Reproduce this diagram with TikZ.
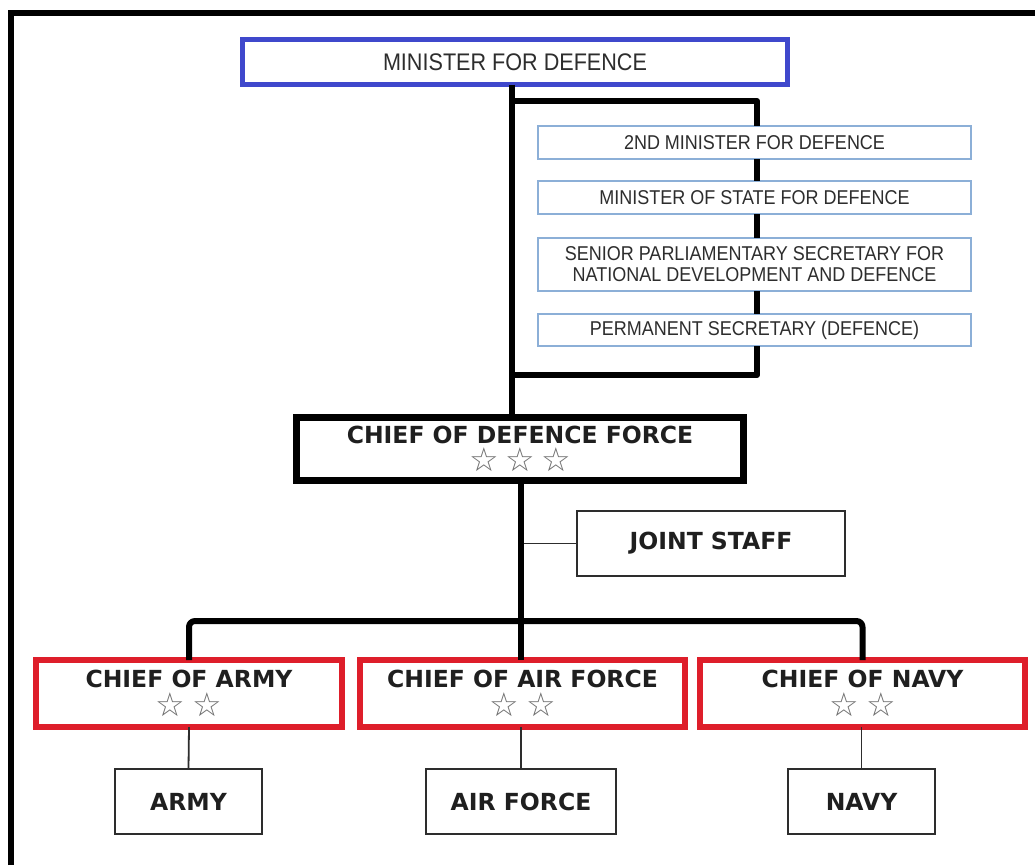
\documentclass[tikz,border=0pt]{standalone}
\usepackage{fontspec}
\setmainfont{Liberation Sans}
\newfontfamily\narrowf[FakeStretch=0.9]{Liberation Sans}
\newfontfamily\boldf{DejaVu Sans}
\newfontfamily\symf{DejaVu Sans}
\definecolor{mblue}{RGB}{63,72,204}
\definecolor{lblue}{RGB}{140,175,215}
\definecolor{cred}{RGB}{222,30,42}
\definecolor{txt}{RGB}{45,45,45}
\definecolor{stargray}{RGB}{110,110,110}
\newcommand{\threestars}{{\symf\color{stargray}\fontsize{33pt}{26pt}\selectfont ☆\hspace{6.5pt}☆\hspace{6.5pt}☆}}
\newcommand{\twostars}{{\symf\color{stargray}\fontsize{33pt}{26pt}\selectfont ☆\hspace{7.5pt}☆}}
\tikzset{
  every node/.style={inner sep=0pt, outer sep=0pt},
  minbox/.style={draw=mblue, line width=5pt, fill=white, text=txt,
    minimum width=545pt, minimum height=45pt,
    font=\narrowf\fontsize{24pt}{26pt}\selectfont},
  subbox/.style={draw=lblue, line width=1.8pt, fill=white, text=txt,
    minimum width=433pt, align=center,
    font=\narrowf\fontsize{20pt}{21pt}\selectfont},
  cdfbox/.style={draw=black, line width=7pt, fill=white, text=black!88,
    minimum width=447pt, minimum height=63pt, align=center,
    font=\boldf\bfseries\fontsize{23.5pt}{26pt}\selectfont},
  chiefbox/.style={draw=cred, line width=6pt, fill=white, text=black!88,
    minimum height=67pt, align=center,
    font=\boldf\bfseries\fontsize{23.5pt}{26pt}\selectfont},
  unitbox/.style={draw=txt, line width=1.8pt, fill=white, text=black!88,
    minimum height=65pt, align=center,
    font=\boldf\bfseries\fontsize{23.5pt}{26pt}\selectfont},
  thickline/.style={line width=6pt, draw=black, line join=round},
  thinline/.style={line width=1.8pt, draw=txt},
}
\begin{document}
\begin{tikzpicture}[x=1pt,y=-1pt]
\useasboundingbox[fill=white] (0,0) rectangle (1035,865);
% frame
\draw[line width=6pt, line join=miter] (11,865) -- (11,13) -- (1035,13);

% helper coordinates
\coordinate (spine) at (512,0);
\coordinate (spineb) at (521,0);
\coordinate (br) at (757,101);
\coordinate (bb) at (757,375);
\coordinate (bus) at (0,621);

% nodes
\node[minbox] (mfd) at (515,62) {MINISTER FOR DEFENCE};
\node[subbox, minimum height=33pt] (s1) at (754.5,142.5) {2ND MINISTER FOR DEFENCE};
\node[subbox, minimum height=33pt] (s2) at (754.5,197.5) {MINISTER OF STATE FOR DEFENCE};
\node[subbox, minimum height=53pt] (s3) at (754.5,264.5) {SENIOR PARLIAMENTARY SECRETARY FOR\\NATIONAL DEVELOPMENT AND DEFENCE};
\node[subbox, minimum height=32pt] (s4) at (754.5,330) {PERMANENT SECRETARY (DEFENCE)};

\node[cdfbox] (cdf) at (520,449) {CHIEF OF DEFENCE FORCE\\[2.5pt]\threestars};
\node[unitbox, minimum width=268pt] (js) at (711,543.5) {JOINT STAFF};

\node[chiefbox, minimum width=306pt] (ca) at (189,693.5) {CHIEF OF ARMY\\[2.5pt]\twostars};
\node[chiefbox, minimum width=325pt] (caf) at (522.5,693.5) {CHIEF OF AIR FORCE\\[2.5pt]\twostars};
\node[chiefbox, minimum width=325pt] (cn) at (862.5,693.5) {CHIEF OF NAVY\\[2.5pt]\twostars};

\node[unitbox, minimum width=147pt] (army) at (188.5,801.5) {ARMY};
\node[unitbox, minimum width=190pt] (af) at (521,801.5) {AIR FORCE};
\node[unitbox, minimum width=147pt] (navy) at (861.5,801.5) {NAVY};

% connectors
\draw[thickline] (mfd.south -| spine) -- (cdf.north -| spine);
\draw[thickline] (spine |- br) -- (br) -- (s1.north -| br);
\draw[thickline] (s1.south -| br) -- (s2.north -| br);
\draw[thickline] (s2.south -| br) -- (s3.north -| br);
\draw[thickline] (s3.south -| br) -- (s4.north -| br);
\draw[thickline] (s4.south -| br) -- (bb) -- (bb -| spine);

\draw[thinline] (js.west -| spineb) -- (js.west);
\draw[thickline] (cdf.south -| spineb) -- (caf.north -| spineb);
\draw[thickline, rounded corners=6pt] (ca.north) -- (ca.north |- bus) -- (cn.north |- bus) -- (cn.north);
\draw[thinline] (ca.south) -- (army.north);
\draw[thinline] (af.north |- caf.south) -- (af.north);
\draw[thinline] (navy.north |- cn.south) -- (navy.north);
\end{tikzpicture}
\end{document}
